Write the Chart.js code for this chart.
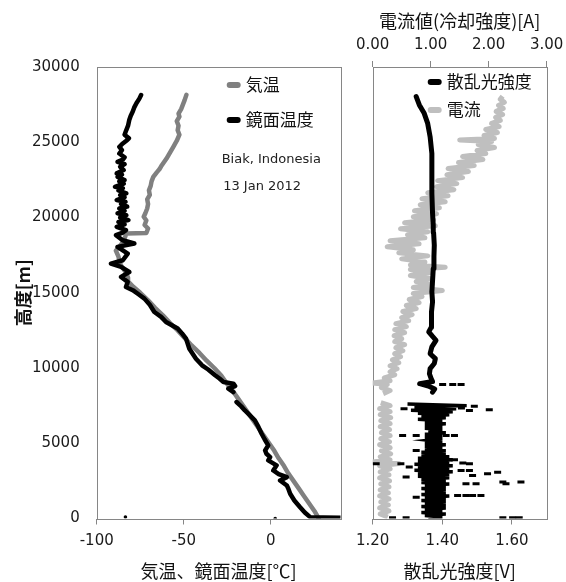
<!DOCTYPE html>
<html>
<head>
<meta charset="utf-8">
<title>Biak 2012-01-13</title>
<script src="https://cdn.jsdelivr.net/npm/chart.js@4.4.1/dist/chart.umd.min.js"></script>
<style>
  body { margin: 0; background: #fff; }
  #left { position: absolute; left: 0; top: 0; width: 350px; height: 582px; }
  #right { position: absolute; left: 350px; top: 0; width: 216px; height: 582px; }
</style>
</head>
<body>
<div id="left"><canvas id="tempChart"></canvas></div>
<div id="right"><canvas id="lightChart"></canvas></div>
<script>
// --- left panel: air temperature and mirror temperature vs altitude ---
const airAlt = [0, 500, 1000, 1500, 2000, 2500, 3000, 3500, 4000, 4500,
  5000, 5500, 6000, 6500, 7000, 7500, 8000, 8500, 9000, 9500,
  10000, 10500, 11000, 11500, 12000, 12500, 13000, 13500, 14000, 14500,
  15000, 15400, 15700, 16000, 16400, 16800, 17100, 17400, 17800, 18200,
  18600, 18930, 18970, 19270, 19500, 19800, 20050, 20300, 20600, 20900,
  21200, 21500, 21800, 22100, 22400, 22700, 23000, 23200, 23400, 23650,
  23900, 24300, 24700, 25100, 25500, 25800, 26100, 26400, 26700, 26900,
  27200, 27500, 27800, 28150];
const airTemp = [27.5, 25, 22, 19, 16, 13, 10, 7.5, 4.5, 2,
  -1, -4, -7, -10, -13, -16, -19, -22, -25.5, -28.5,
  -32.5, -37, -41, -45.5, -49.5, -53.5, -58, -62, -66.5, -70.5,
  -75, -79, -81.5, -82, -83.5, -86, -87, -87.5, -89, -86,
  -84, -83, -71.5, -70.5, -72.5, -71.5, -73, -72, -71, -70.5,
  -71, -69.5, -70, -69, -68.5, -67.5, -65.5, -64, -63, -61.5,
  -60, -58, -56, -54, -52.5, -53.5, -53, -54, -52.5, -53,
  -51.5, -50.5, -49.5, -48.5];

const mirrorAlt = [50, 70, 90, 400, 750, 1200, 1640, 2000, 2190, 2530,
  2750, 2950, 3190, 3530, 3860, 4080, 4300, 4520, 4860, 5250,
  5630, 6100, 6520, 6850, 7180, 7450, 7740, 8100, 8400, 8630,
  8800, 8960, 9070, 9300, 9520, 9900, 10180, 10620, 11280, 11950,
  12300, 12620, 13060, 13400, 13720, 14200, 14610, 14900, 15170, 15380,
  15720, 16050, 16380, 16720, 16940, 17160, 17600, 18050, 18270, 18490,
  18830, 19000, 19160, 19380, 19550, 19700, 19830, 20000, 20150, 20280,
  20450, 20600, 20720, 20900, 21050, 21160, 21350, 21500, 21610, 21800,
  21950, 22040, 22250, 22400, 22490, 22700, 22850, 22930, 23150, 23370,
  23550, 23700, 23850, 24000, 24250, 24480, 24700, 24920, 25100, 25260,
  25500, 25810, 26100, 26475, 26750, 27040, 27300, 27590, 27900, 28140];
const mirrorTemp = [40, 30, 22.6, 19.5, 16.8, 13.5, 11.1, 10, 9.2, 5.3,
  9.2, 4.5, 1.4, 3.3, -1.5, -0.4, -2.5, -3.3, -1.5, -3.5,
  -5.3, -7.2, -9.2, -12, -14.9, -17, -19.7, null, -21.5, -24.4,
  -20.5, -21.5, -27.2, -29.5, -32, -36, -39.5, -43, -46.8, -48.7,
  -51, -53.5, -60.2, -63, -66.9, -69.5, -72.6, -76, -79.3, -83.2,
  -82.2, -86, -81.3, -86, -91.8, -85, -82.2, -88, -78.4, -85.1,
  -88.9, -85, -83.2, -88.5, -84, -87.5, -81.8, -86.5, -83, -88,
  -84, -87, -82.5, -86, -83.5, -88.5, -84, -86.5, -83, -87.5,
  -85, -89.5, -84.5, -87, -84, -88, -85.5, -88.5, -84.5, -86.5,
  -84, -88, -85, -84, -87, -85.5, -87, -85, -83, -81.5,
  -84, -83, -82, -81.3, -80.5, -79.3, -78.5, -77.2, -75.5, -74.5];

const strayAlt = [100, 0];
const strayTemp = [-83.5, 2.5];

const altTicks = [0, 5000, 10000, 15000, 20000, 25000, 30000];
const tempTicks = [-100, -50, 0];

// --- right panel: scattered light [V] (bottom axis) and current [A] (top axis) ---
const lightAlt = [8400, 8600, 8800, 8960, 9100, 9290, 9620, 9960, 10300, 10620,
  10950, 11400, 11840, 12100, 12400, 12700, 13060, 13730, 14400, 15060,
  15800, 16610, 17400, 18160, 19000, 19490, 20270, 21600, 22930, 24260,
  25360, 26250, 26920, 27480, 28030];
const lightV = [1.372, 1.378, 1.360, 1.335, 1.372, 1.368, 1.363, 1.365, 1.377, 1.380,
  1.365, 1.370, 1.382, 1.372, 1.361, 1.368, 1.368, 1.370, 1.372, 1.370,
  1.372, 1.374, 1.376, 1.377, 1.375, 1.374, 1.372, 1.370, 1.370, 1.370,
  1.365, 1.358, 1.348, 1.334, 1.325];

const cloudAlt = [7600, 7500, 7400, 7300, 7200, 7100, 7000, 6900, 6800, 6700,
  6600, 6500, 6400, 6300, 6200, 6100, 6000, 5900, 5800, 5700,
  5600, 5500, 5400, 5300, 5200, 5100, 5000, 4900, 4800, 4700,
  4600, 4500, 4400, 4300, 4200, 4100, 4000, 3900, 3800, 3700,
  3600, 3500, 3400, 3300, 3200, 3100, 3000, 2900, 2800, 2700,
  2600, 2500, 2400, 2300, 2200, 2100, 2000, 1900, 1800, 1700,
  1600, 1500, 1400, 1300, 1200, 1100, 1000, 900, 800, 700,
  600, 500, 400, 300, 200, 100, 0];
const cloudV = [1.30, 1.47, 1.32, 1.44, 1.31, 1.43, 1.33, 1.42, 1.34, 1.41,
  1.33, 1.40, 1.35, 1.41, 1.35, 1.40, 1.35, 1.40, 1.36, 1.41,
  1.35, 1.40, 1.35, 1.40, 1.36, 1.40, 1.35, 1.41, 1.35, 1.40,
  1.35, 1.41, 1.34, 1.41, 1.34, 1.42, 1.33, 1.43, 1.33, 1.42,
  1.32, 1.43, 1.33, 1.42, 1.32, 1.43, 1.33, 1.42, 1.33, 1.42,
  1.34, 1.41, 1.34, 1.42, 1.35, 1.41, 1.34, 1.41, 1.35, 1.41,
  1.34, 1.42, 1.35, 1.41, 1.34, 1.41, 1.35, 1.41, 1.34, 1.41,
  1.35, 1.40, 1.34, 1.41, 1.35, 1.40, 1.36];

const spikeAlt = [8910, 8910, 8910, 7230, 7460, 7180, 7350, 7300, 5520, 5520,
  5520, 5520, 3900, 3680, 3640, 3640, 3640, 3080, 2970, 2860,
  2420, 2420, 2310, 2310, 2310, 1530, 1530, 1530, 1530, 50,
  50, 50, 50, 50, 3420, 2750, 4520, 1420, 3190, 3190];
const spikeV = [1.401, 1.430, 1.454, 1.535, 1.492, 1.478, 1.455, 1.290, 1.286, 1.325,
  1.411, 1.435, 1.435, 1.459, 1.478, 1.210, 1.281, 1.559, 1.530, 1.487,
  1.574, 1.626, 1.583, 1.468, 1.497, 1.444, 1.468, 1.487, 1.511, 1.257,
  1.296, 1.574, 1.602, 1.621, 1.305, 1.296, 1.325, 1.325, 1.454, 1.478];

const currentAlt = [100, 300, 500, 700, 900, 1100, 1300, 1500, 1700, 1900,
  2100, 2300, 2500, 2700, 2900, 3100, 3300, 3500, 3650, 3750,
  3900, 4100, 4300, 4500, 4700, 4900, 5100, 5300, 5500, 5700,
  5900, 6100, 6300, 6500, 6700, 6900, 7100, 7300, 7500, 7700,
  8000, 8300, 8500, 8700, 8900, 9000, 9150, 9350, 9550, 9750,
  9950, 10150, 10350, 10550, 10750, 10950, 11150, 11350, 11550, 11750,
  11950, 12150, 12350, 12550, 12750, 12950, 13150, 13350, 13550, 13750,
  13950, 14150, 14350, 14550, 14750, 14950, 15150, 15350, 15550, 15750,
  15950, 16150, 16350, 16550, 16700, 16850, 17050, 17250, 17450, 17650,
  17850, 18050, 18250, 18450, 18650, 18850, 19050, 19250, 19450, 19650,
  19850, 20050, 20250, 20450, 20650, 20850, 21050, 21250, 21450, 21650,
  21850, 22050, 22250, 22450, 22650, 22850, 23050, 23250, 23450, 23650,
  23850, 24050, 24250, 24450, 24650, 24850, 25050, 25150, 25250, 25450,
  25650, 25850, 26050, 26250, 26450, 26650, 26850, 27050, 27250, 27450,
  27650, 27850, 28050];
const currentA = [0.26, 0.13, 0.28, 0.12, 0.27, 0.14, 0.28, 0.12, 0.27, 0.13,
  0.28, 0.14, 0.29, 0.12, 0.28, 0.13, 0.30, 0.12, 0.45, 0.00,
  0.30, 0.13, 0.31, 0.15, 0.30, 0.12, 0.29, 0.14, 0.30, 0.15,
  0.29, 0.13, 0.30, 0.14, 0.31, 0.13, 0.30, 0.12, 0.30, 0.14,
  null, 0.18, 0.30, 0.15, 0.25, 0.00, 0.30, 0.20, 0.38, 0.30,
  0.42, 0.30, 0.45, 0.34, 0.48, 0.38, 0.52, 0.40, 0.55, 0.38,
  0.50, 0.37, 0.55, 0.38, 0.58, 0.40, 0.62, 0.50, 0.68, 0.52,
  0.75, 0.58, 0.80, 0.63, 0.85, 0.70, 1.20, 0.70, 1.02, 0.75,
  0.98, 0.65, 1.00, 0.65, 1.25, 0.65, 0.90, 0.50, 0.95, 0.45,
  0.70, 0.25, 0.80, 0.30, 0.90, 0.60, 0.95, 0.48, 1.08, 0.55,
  1.05, 0.70, 1.10, 0.72, 1.15, 0.82, 1.25, 0.85, 1.30, 0.95,
  1.40, 1.10, 1.45, 1.12, 1.55, 1.28, 1.65, 1.30, 1.75, 1.48,
  1.90, 1.55, 1.95, 1.80, 2.10, 1.82, 2.05, 1.50, 2.10, 1.92,
  2.15, 1.95, 2.18, 2.05, 2.20, 2.12, 2.24, 2.13, 2.25, 2.17,
  2.27, 2.20, 2.24];

const lightTicks = [1.2, 1.4, 1.6];
const currentTicks = [0, 1, 2, 3];

// helpers
const pts = (xs, ys) => xs.map((x, i) => ({ x: x, y: ys[i] }));
const tickFont = { family: 'DejaVu Sans', size: 15 };
const jpFont = { family: "'Noto Sans CJK JP', sans-serif", size: 18 };
const axisGray = '#868686';

// fixed axis thickness, no label overflow padding (keeps plot boxes where they are)
const fixH = h => s => { s.height = h; s.paddingLeft = 0; s.paddingRight = 0; };
const fixW = w => s => { s.width = w; s.paddingTop = 0; s.paddingBottom = 0; };

// draws the plot frame
const frame = {
  id: 'frame',
  beforeDatasetsDraw(chart) {
    const { ctx, chartArea: a } = chart;
    ctx.save();
    ctx.strokeStyle = axisGray;
    ctx.lineWidth = 1;
    ctx.strokeRect(Math.round(a.left) + 0.5, Math.round(a.top) + 0.5,
      Math.round(a.right) - Math.round(a.left), Math.round(a.bottom) - Math.round(a.top));
    ctx.restore();
  }
};

// legend and notes inside the plot area
function keyBox(cfg) {
  return {
    id: 'keyBox',
    afterDraw(chart) {
      const { ctx, chartArea: a } = chart;
      ctx.save();
      cfg.items.forEach((it, i) => {
        const x = a.left + cfg.left;
        const y = a.top + cfg.top + i * cfg.gap;
        ctx.strokeStyle = it.color;
        ctx.lineWidth = 6;
        ctx.lineCap = 'round';
        ctx.beginPath();
        ctx.moveTo(x + 3, y);
        ctx.lineTo(x + cfg.len - 3, y);
        ctx.stroke();
        ctx.fillStyle = '#111';
        ctx.font = "17px 'Noto Sans CJK JP'";
        ctx.textBaseline = 'middle';
        ctx.fillText(it.text, x + cfg.len + 5, y);
      });
      (cfg.notes || []).forEach(n => {
        ctx.fillStyle = '#222';
        ctx.font = "13px 'DejaVu Sans'";
        ctx.textBaseline = 'middle';
        ctx.fillText(n.text, a.left + n.left, a.top + n.top);
      });
      ctx.restore();
    }
  };
}

new Chart(document.getElementById('tempChart'), {
  type: 'scatter',
  data: {
    datasets: [{
      label: '鏡面温度',
      data: pts(mirrorTemp, mirrorAlt),
      showLine: true,
      spanGaps: false,
      borderColor: '#000',
      borderWidth: 4.5,
      borderJoinStyle: 'round',
      borderCapStyle: 'round',
      pointRadius: 0,
      order: 0
    }, {
      label: '気温',
      data: pts(airTemp, airAlt),
      showLine: true,
      borderColor: '#808080',
      borderWidth: 4.5,
      borderJoinStyle: 'round',
      borderCapStyle: 'round',
      pointRadius: 0,
      order: 1
    }, {
      label: 'stray',
      data: pts(strayTemp, strayAlt),
      pointRadius: 1.8,
      pointBackgroundColor: '#000',
      pointBorderWidth: 0,
      order: 0
    }]
  },
  options: {
    responsive: true,
    maintainAspectRatio: false,
    animation: false,
    events: [],
    layout: { padding: { left: 0, top: 67, right: 9.5, bottom: 0 } },
    plugins: { legend: { display: false }, tooltip: { enabled: false } },
    scales: {
      x: {
        type: 'linear',
        min: -100,
        max: 40,
        afterBuildTicks: s => { s.ticks = tempTicks.map(v => ({ value: v })); },
        afterFit: fixH(63.5),
        grid: { drawOnChartArea: false, tickLength: 6, color: axisGray },
        border: { display: false },
        ticks: { color: '#1a1a1a', font: tickFont, padding: 8, maxRotation: 0 },
        title: { display: true, text: '気温、鏡面温度[℃]', color: '#111', font: jpFont, padding: { top: 0, bottom: 0 } }
      },
      y: {
        type: 'linear',
        min: 0,
        max: 30000,
        afterBuildTicks: s => { s.ticks = altTicks.map(v => ({ value: v })); },
        afterFit: fixW(96.7),
        grid: { display: false, drawTicks: false },
        border: { display: false },
        ticks: { color: '#1a1a1a', font: tickFont, padding: 17, callback: v => String(v) },
        title: { display: true, text: '高度[m]', color: '#111', font: { family: "'Noto Sans CJK JP', sans-serif", size: 18, weight: 'bold' }, padding: { top: 12, bottom: 0 } }
      }
    }
  },
  plugins: [frame, keyBox({
    left: 130, top: 18, gap: 35, len: 14,
    items: [{ text: '気温', color: '#808080' }, { text: '鏡面温度', color: '#000' }],
    notes: [{ text: 'Biak, Indonesia', left: 125, top: 93 }, { text: '13 Jan 2012', left: 126.5, top: 120 }]
  })]
});

new Chart(document.getElementById('lightChart'), {
  type: 'scatter',
  data: {
    datasets: [{
      label: '散乱光強度',
      data: pts(lightV, lightAlt),
      showLine: true,
      borderColor: '#000',
      borderWidth: 5,
      borderJoinStyle: 'round',
      borderCapStyle: 'round',
      pointRadius: 0,
      order: 0
    }, {
      label: 'cloud',
      data: pts(cloudV, cloudAlt),
      showLine: true,
      borderColor: '#000',
      borderWidth: 3.5,
      pointRadius: 0,
      order: 0
    }, {
      label: 'spikes',
      data: pts(spikeV, spikeAlt),
      pointStyle: 'line',
      pointRadius: 3.5,
      pointBorderWidth: 3,
      pointBorderColor: '#000',
      order: 0
    }, {
      label: '電流',
      data: pts(currentA, currentAlt),
      xAxisID: 'x2',
      showLine: true,
      spanGaps: false,
      borderColor: '#bfbfbf',
      borderWidth: 5,
      borderJoinStyle: 'round',
      pointRadius: 0,
      order: 2
    }]
  },
  options: {
    responsive: true,
    maintainAspectRatio: false,
    animation: false,
    events: [],
    layout: { padding: { left: 0, top: 0, right: 19.3, bottom: 0 } },
    plugins: { legend: { display: false }, tooltip: { enabled: false } },
    scales: {
      x: {
        type: 'linear',
        position: 'bottom',
        min: 1.2,
        max: 1.7,
        afterBuildTicks: s => { s.ticks = lightTicks.map(v => ({ value: v })); },
        afterFit: fixH(63.5),
        grid: { drawOnChartArea: false, tickLength: 6, color: axisGray },
        border: { display: false },
        ticks: { color: '#1a1a1a', font: tickFont, padding: 8, maxRotation: 0, callback: v => v.toFixed(2) },
        title: { display: true, text: '散乱光強度[V]', color: '#111', font: jpFont, padding: { top: 0, bottom: 0 } }
      },
      x2: {
        type: 'linear',
        position: 'top',
        min: 0,
        max: 3,
        afterBuildTicks: s => { s.ticks = currentTicks.map(v => ({ value: v })); },
        afterFit: fixH(67),
        grid: { drawOnChartArea: false, tickLength: 6, color: axisGray },
        border: { display: false },
        ticks: { color: '#1a1a1a', font: tickFont, padding: 7, maxRotation: 0, callback: v => v.toFixed(2) },
        title: { display: true, text: '電流値(冷却強度)[A]', color: '#111', font: jpFont, padding: { top: 10, bottom: 0 } }
      },
      y: {
        type: 'linear',
        min: 0,
        max: 30000,
        afterFit: fixW(22.7),
        grid: { display: false, drawTicks: false },
        border: { display: false },
        ticks: { display: false }
      }
    }
  },
  plugins: [frame, keyBox({
    left: 55, top: 15, gap: 28, len: 14,
    items: [{ text: '散乱光強度', color: '#000' }, { text: '電流', color: '#bfbfbf' }]
  })]
});
</script>
</body>
</html>
